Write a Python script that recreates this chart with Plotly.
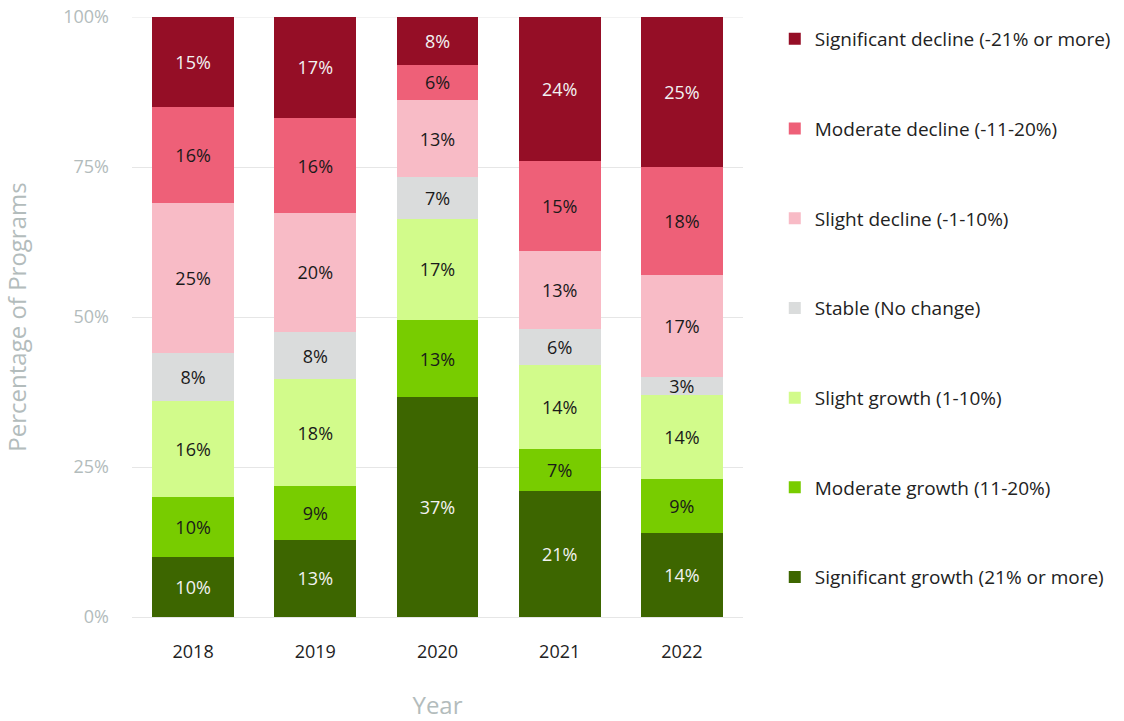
import plotly.graph_objects as go

years = ["2018", "2019", "2020", "2021", "2022"]
categories = [
    "Significant growth (21% or more)",
    "Moderate growth (11-20%)",
    "Slight growth (1-10%)",
    "Stable (No change)",
    "Slight decline (-1-10%)",
    "Moderate decline (-11-20%)",
    "Significant decline (-21% or more)",
]
sig_growth = [10, 13, 37, 21, 14]
mod_growth = [10, 9, 13, 7, 9]
slight_growth = [16, 18, 17, 14, 14]
stable = [8, 8, 7, 6, 3]
slight_decline = [25, 20, 13, 13, 17]
mod_decline = [16, 16, 6, 15, 18]
sig_decline = [15, 17, 8, 24, 25]
series = [sig_growth, mod_growth, slight_growth, stable, slight_decline, mod_decline, sig_decline]

y_ticks = [0, 25, 50, 75, 100]
y_tick_labels = ["0%", "25%", "50%", "75%", "100%"]

colors = ["#3d6600", "#78cc00", "#d2fb8b", "#dadcdc", "#f8bbc6", "#ee6078", "#950e26"]
text_colors = ["#f2f2f2", "#1a1a1a", "#1a1a1a", "#1a1a1a", "#1a1a1a", "#1a1a1a", "#f2f2f2"]

FONT = "Open Sans, Lato, sans-serif"
AXIS_GREY = "#b3bcbc"
GRID = "#e6e6e6"

fig = go.Figure()
for i, (name, vals, c, tc) in enumerate(zip(categories, series, colors, text_colors)):
    fig.add_trace(go.Bar(
        x=years, y=vals, name=name, legendgroup=name, legendrank=len(categories) - i,
        marker=dict(color=c, line=dict(width=0)),
        text=[f"{v}%" for v in vals], textposition="inside",
        insidetextanchor="middle", textangle=0,
        textfont=dict(color=tc, size=18, family=FONT),
        hoverinfo="skip",
    ))

# top gridline (at 100%) drawn beneath the bars
fig.add_hline(y=y_ticks[-1], line=dict(color=GRID, width=1), layer="below")

fig.update_layout(
    width=1124, height=721,
    barmode="stack", barnorm="percent", bargap=0.33,
    plot_bgcolor="white", paper_bgcolor="white",
    margin=dict(l=132, r=381, t=17, b=104, autoexpand=False),
    font=dict(family=FONT, size=18, color="#222222"),
    uniformtext=dict(minsize=18, mode="show"),
    legend=dict(
        traceorder="grouped", x=1.052, xanchor="left", y=0.995, yanchor="top",
        font=dict(size=19, color="#222222", family=FONT),
        tracegroupgap=62, itemwidth=30, bgcolor="rgba(0,0,0,0)",
    ),
    xaxis=dict(
        title=dict(text="Year", font=dict(size=24, color=AXIS_GREY), standoff=36),
        tickfont=dict(size=18, color="#222222"), ticks="", showgrid=False,
        ticklabelstandoff=22, showline=False,
    ),
    yaxis=dict(
        title=dict(text="Percentage of Programs", font=dict(size=24, color=AXIS_GREY), standoff=38),
        range=[0, 100], tickmode="array", tickvals=y_ticks, ticktext=y_tick_labels,
        tickfont=dict(size=18, color=AXIS_GREY), ticklabeloverflow="allow",
        showgrid=True, gridcolor=GRID, gridwidth=1,
        zeroline=True, zerolinecolor=GRID, zerolinewidth=1,
        ticklabelstandoff=22, showline=False,
    ),
)

# remove the browser's default page margin so the figure fills the window exactly
fig.write_html(
    "out.html",
    config={"displayModeBar": False},
    post_script="document.body.style.margin='0';",
)
